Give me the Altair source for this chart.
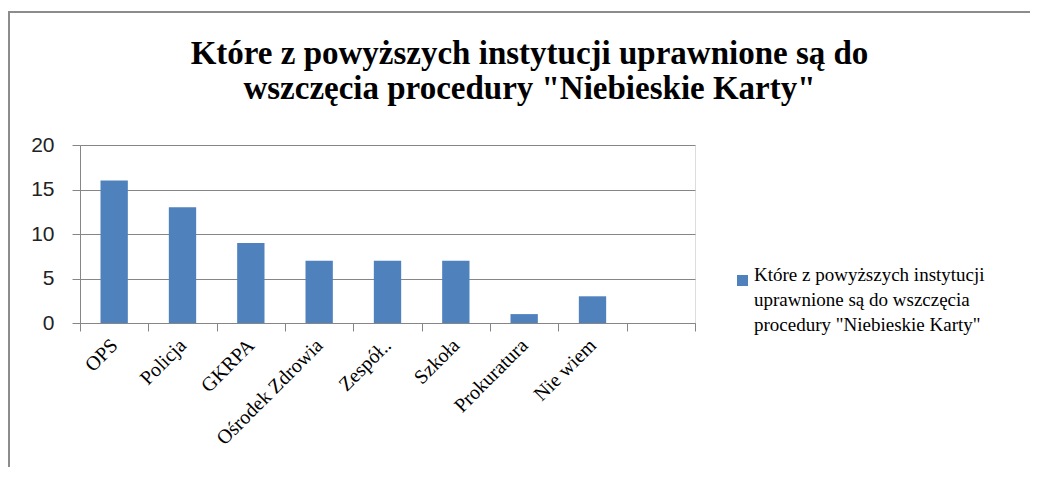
import altair as alt
import pandas as pd

categories = ["OPS", "Policja", "GKRPA", "Ośrodek Zdrowia", "Zespół..", "Szkoła", "Prokuratura", "Nie wiem", " "]
values = [16, 13, 9, 7, 7, 7, 1, 3, None]
series_name = 'Które z powyższych instytucji|uprawnione są do wszczęcia|procedury "Niebieskie Karty"'
title_lines = ["Które z powyższych instytucji uprawnione są do", 'wszczęcia procedury "Niebieskie Karty"']
y_ticks = [0, 5, 10, 15, 20]

df = pd.DataFrame({"cat": categories, "val": values, "series": series_name})

W, H = 615, 178
GRAY = "#868686"

bars = alt.Chart(df).mark_bar(width=alt.RelativeBandSize(0.4), color="#4F81BD").encode(
    x=alt.X("cat:N", sort=categories,
            scale=alt.Scale(domain=categories, paddingInner=0, paddingOuter=0),
            axis=alt.Axis(title=None, labelAngle=-45, labelAlign="right", labelBaseline="middle",
                          labelFont="Liberation Serif", labelFontSize=20, labelColor="#000000",
                          labelPadding=11, tickBand="extent", tickSize=8, tickColor=GRAY,
                          domainColor=GRAY, grid=False, labelLimit=0)),
    y=alt.Y("val:Q", scale=alt.Scale(domain=[0, 20], nice=False),
            axis=alt.Axis(title=None, values=y_ticks, tickSize=8, tickColor=GRAY, domainColor=GRAY,
                          grid=True, gridColor=GRAY, labelFont="Liberation Sans", labelFontSize=21,
                          labelColor="#222222", labelPadding=18)),
    color=alt.Color("series:N", scale=alt.Scale(range=["#4F81BD"]),
                    legend=alt.Legend(title=None, orient="none", legendX=653, legendY=126,
                                      symbolType="square", symbolSize=121, symbolStrokeWidth=0,
                                      labelFont="Liberation Serif", labelFontSize=19, labelColor="#000000",
                                      labelExpr="split(datum.label, '|')", labelLimit=0,
                                      labelBaseline="alphabetic", labelOffset=2, padding=0)),
)

frame_v = alt.Chart(df).mark_rule(color="#8c8c8c", strokeWidth=2).encode(
    x=alt.value(-71), y=alt.value(-133), y2=alt.value(H + 150))
frame_h = alt.Chart(df).mark_rule(color="#8c8c8c", strokeWidth=2).encode(
    x=alt.value(-72), x2=alt.value(W + 340), y=alt.value(-133))

chart = alt.layer(frame_v, frame_h, bars).properties(
    width=W, height=H,
    title=alt.TitleParams(text=title_lines, font="Liberation Serif", fontSize=33, fontWeight="bold",
                          color="#000000", lineHeight=35, anchor="middle", frame="group", dx=142,
                          offset=30, dy=125),
    autosize=alt.AutoSizeParams(type="none"),
    padding={"left": 72, "top": 137, "right": 335, "bottom": 144},
).configure_view(stroke=None).configure(background="white", style={"guide-label": {"lineHeight": 25}})

chart.save("out.html", embed_options={"renderer": "svg", "actions": False})
